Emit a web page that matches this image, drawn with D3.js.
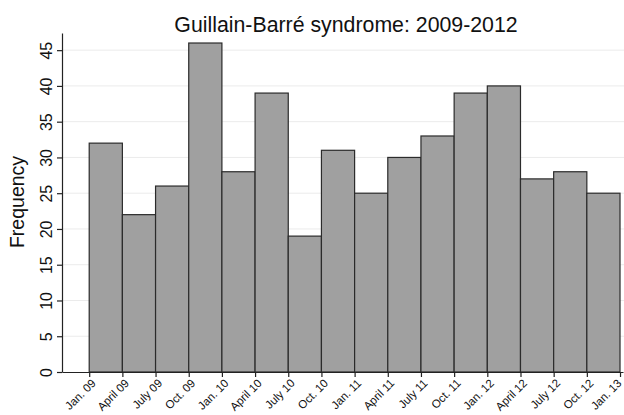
<!DOCTYPE html>
<html>
<head>
<meta charset="utf-8">
<script src="https://cdn.jsdelivr.net/npm/d3@7"></script>
<style>
html,body{margin:0;padding:0;background:#fff;}
svg{display:block;font-family:"Liberation Sans",Arial,sans-serif;}
</style>
</head>
<body>
<svg id="chart" width="624" height="415"></svg>
<script>
const tickLabels = ["Jan. 09","April 09","July 09","Oct. 09","Jan. 10","April 10","July 10","Oct. 10","Jan. 11","April 11","July 11","Oct. 11","Jan. 12","April 12","July 12","Oct. 12","Jan. 13"];
const frequency = [32,22,26,46,28,39,19,31,25,30,33,39,40,27,28,25];
const yTicks = [0,5,10,15,20,25,30,35,40,45];
const title = "Guillain-Barré syndrome: 2009-2012";
const yTitle = "Frequency";

const svg = d3.select("#chart");
const x = d3.scaleLinear().domain([-0.82, 16.09]).range([62, 623]);
const y = d3.scaleLinear().domain([0, 47.4]).range([372, 33]);

// gridlines
svg.append("g").selectAll("line").data(yTicks.filter(d=>d>0)).join("line")
  .attr("x1", 62).attr("x2", 624)
  .attr("y1", d=>y(d)).attr("y2", d=>y(d))
  .attr("stroke", "#ebebeb").attr("stroke-width", 1);

// bars
svg.append("g").selectAll("rect").data(frequency).join("rect")
  .attr("x", (d,i)=>x(i))
  .attr("width", (d,i)=>x(i+1)-x(i))
  .attr("y", d=>y(d))
  .attr("height", d=>y(0)-y(d))
  .attr("fill", "#a0a0a0")
  .attr("stroke", "#2b2b2b")
  .attr("stroke-width", 1.2);

// y axis
const yAxis = svg.append("g").attr("transform","translate(62,0)")
  .call(d3.axisLeft(y).tickValues(yTicks).tickSize(5).tickSizeOuter(0));
yAxis.select(".domain").attr("stroke","#222").attr("stroke-width",1.2);
yAxis.selectAll(".tick line").attr("stroke","#222").attr("stroke-width",1.2);
yAxis.selectAll(".tick text")
  .attr("font-size", 16).attr("fill","#111")
  .attr("font-family","'Liberation Sans',Arial,sans-serif")
  .attr("text-anchor","middle")
  .attr("x", 0).attr("y", 0).attr("dy","0em")
  .attr("transform", "translate(-10,0) rotate(-90)");

// x axis
const lastIdx = tickLabels.length - 1;
const xAxis = svg.append("g").attr("transform","translate(0,372)")
  .call(d3.axisBottom(x).tickValues(d3.range(tickLabels.length)).tickFormat(i=>tickLabels[i]).tickSize(5).tickSizeOuter(0));
xAxis.select(".domain").attr("stroke","#222").attr("stroke-width",1.2);
xAxis.selectAll(".tick line").attr("stroke","#222").attr("stroke-width",1.2);
xAxis.selectAll(".tick text")
  .attr("font-size", 11.5).attr("fill","#111")
  .attr("font-family","'Liberation Sans',Arial,sans-serif")
  .attr("text-anchor","end")
  .attr("x", 0).attr("y", 0)
  .attr("dy","0.35em")
  .attr("transform", d => d === lastIdx ? "translate(-1,9) rotate(-45)" : "translate(4,9) rotate(-45)");

// title
svg.append("text").attr("x", 346).attr("y", 31.5)
  .attr("text-anchor","middle").attr("font-size", 21.3).attr("fill","#111")
  .text(title);

// y title
svg.append("text")
  .attr("transform","translate(24,202) rotate(-90)")
  .attr("text-anchor","middle").attr("font-size", 19.5).attr("fill","#111")
  .text(yTitle);
</script>
</body>
</html>
